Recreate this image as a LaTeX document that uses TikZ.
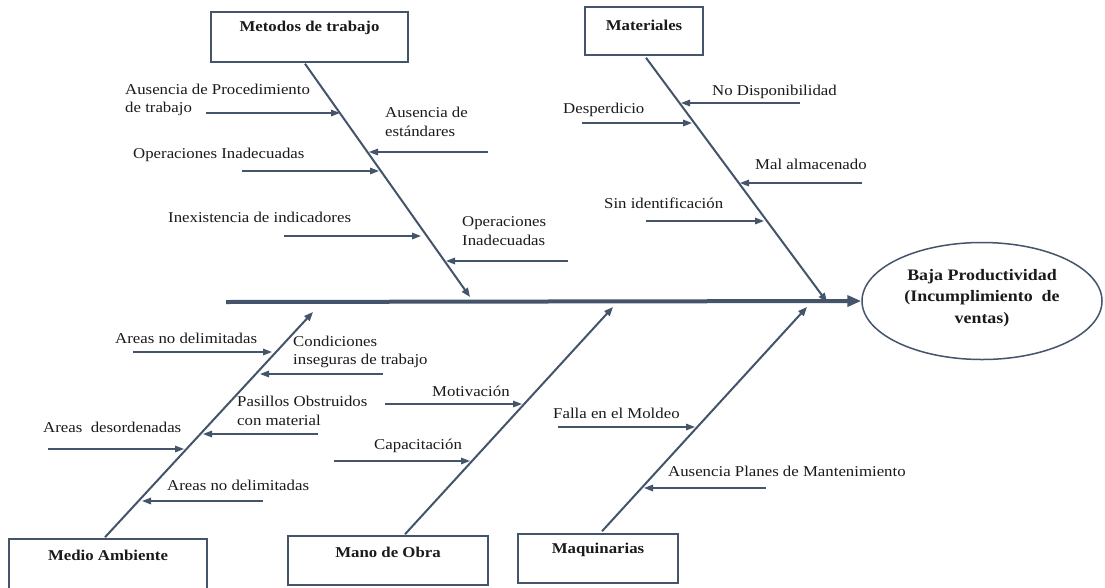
\documentclass[tikz,border=0pt]{standalone}
\usepackage{fontspec}
\setmainfont{Liberation Serif}[FakeStretch=1.12]
\usetikzlibrary{arrows.meta,shapes.geometric,calc}
\definecolor{bonecol}{HTML}{44546A}
\definecolor{txt}{HTML}{1A1A1A}
\tikzset{
  bone/.style={draw=bonecol, line width=2pt, -{Triangle[length=9pt,width=7pt]}},
  sub/.style={draw=bonecol, line width=1.5pt, -{Triangle[length=9pt,width=6.5pt]}},
  spine/.style={draw=bonecol, line width=4pt, -{Triangle[length=14pt,width=11pt]}},
  catbox/.style={draw=bonecol, line width=1.5pt, rectangle, inner sep=0pt},
  cat/.style={font=\bfseries\fontsize{15}{18}\selectfont, text=txt, inner sep=0pt},
  lbl/.style={font=\fontsize{15}{18.5}\selectfont, text=txt, inner sep=0pt, anchor=west, align=left},
  goalshape/.style={draw=bonecol, line width=1.5pt, ellipse, minimum width=240pt, minimum height=117pt, inner sep=0pt},
  goaltext/.style={font=\bfseries\fontsize{16}{21.5}\selectfont, text=txt, align=center, inner sep=0pt},
}
\begin{document}
\begin{tikzpicture}[x=1pt,y=-1pt]
\useasboundingbox (0,0) rectangle (1105,587);
\fill[white] (0,0) rectangle (1105,587);

% Category boxes
\node[catbox, minimum width=197pt, minimum height=50pt] (met) at (309.5,37) {};
\node[cat] (metT) at ($(met.north)+(0,17)$) {Metodos de trabajo};
\node[catbox, minimum width=118pt, minimum height=48pt] (mat) at (644,31) {};
\node[cat] (matT) at ($(mat.north)+(0,19)$) {Materiales};
\node[catbox, minimum width=198pt, minimum height=50pt] (med) at (108,564) {};
\node[cat] (medT) at ($(med.north)+(0,17)$) {Medio Ambiente};
\node[catbox, minimum width=200pt, minimum height=49pt] (man) at (388,560.5) {};
\node[cat] (manT) at ($(man.north)+(0,17)$) {Mano de Obra};
\node[catbox, minimum width=160pt, minimum height=49pt] (maq) at (598,558.5) {};
\node[cat] (maqT) at ($(maq.north)+(0,17)$) {Maquinarias};

% Effect
\node[goalshape] (goal) at (982,301) {};
\node[goaltext] (goalT) at ($(goal.center)+(0,-3)$) {Baja Productividad\\(Incumplimiento~ de\\ventas)};

% Spine
\coordinate (spS) at (226,302);
\draw[spine] (spS) -- (goal.west);

% Bones
\coordinate (metTip) at (470,297);
\coordinate (matTip) at (827,302);
\coordinate (medTip) at (313,312);
\coordinate (manTip) at (613,307);
\coordinate (maqTip) at (807,307);
\draw[bone] ($(met.south)+(-4.5,1)$) -- (metTip);
\draw[bone] ($(mat.south)+(2,2)$) -- (matTip);
\draw[bone] ($(med.north)+(-3,-1)$) -- (medTip);
\draw[bone] ($(man.north)+(17,-1)$) -- (manTip);
\draw[bone] ($(maq.north)+(4,-2)$) -- (maqTip);

% Metodos de trabajo causes
\node[lbl] (m1) at (125,100) {Ausencia de Procedimiento\\de trabajo};
\coordinate (m1s) at (206,113); \coordinate (m1t) at (340,113);
\draw[sub] (m1s) -- (m1t);
\node[lbl] (m2) at (385,122) {Ausencia de\\estándares};
\coordinate (m2s) at (488,152); \coordinate (m2t) at (369,152);
\draw[sub] (m2s) -- (m2t);
\node[lbl] (m3) at (133,155) {Operaciones Inadecuadas};
\coordinate (m3s) at (242,171); \coordinate (m3t) at (379,171);
\draw[sub] (m3s) -- (m3t);
\node[lbl] (m4) at (168,217) {Inexistencia de indicadores};
\coordinate (m4s) at (284,236); \coordinate (m4t) at (421,236);
\draw[sub] (m4s) -- (m4t);
\node[lbl] (m5) at (462,231) {Operaciones\\Inadecuadas};
\coordinate (m5s) at (568,261); \coordinate (m5t) at (446,261);
\draw[sub] (m5s) -- (m5t);

% Materiales causes
\node[lbl] (a1) at (712,92) {No Disponibilidad};
\coordinate (a1s) at (800,103); \coordinate (a1t) at (681,103);
\draw[sub] (a1s) -- (a1t);
\node[lbl] (a2) at (563,110) {Desperdicio};
\coordinate (a2s) at (582,123); \coordinate (a2t) at (692,123);
\draw[sub] (a2s) -- (a2t);
\node[lbl] (a3) at (755,164) {Mal almacenado};
\coordinate (a3s) at (862,183); \coordinate (a3t) at (740,183);
\draw[sub] (a3s) -- (a3t);
\node[lbl] (a4) at (604,203) {Sin identificación};
\coordinate (a4s) at (646,221); \coordinate (a4t) at (764,221);
\draw[sub] (a4s) -- (a4t);

% Medio Ambiente causes
\node[lbl] (e1) at (115,338) {Areas no delimitadas};
\coordinate (e1s) at (133,352); \coordinate (e1t) at (272,352);
\draw[sub] (e1s) -- (e1t);
\node[lbl] (e2) at (293,352) {Condiciones\\inseguras de trabajo};
\coordinate (e2s) at (383,374); \coordinate (e2t) at (260,374);
\draw[sub] (e2s) -- (e2t);
\node[lbl] (e3) at (237,411) {Pasillos Obstruidos\\con material};
\coordinate (e3s) at (318,434); \coordinate (e3t) at (203,434);
\draw[sub] (e3s) -- (e3t);
\node[lbl] (e4) at (43,427) {Areas~ desordenadas};
\coordinate (e4s) at (48,449); \coordinate (e4t) at (184,449);
\draw[sub] (e4s) -- (e4t);
\node[lbl] (e5) at (167,485) {Areas no delimitadas};
\coordinate (e5s) at (263,501); \coordinate (e5t) at (142,501);
\draw[sub] (e5s) -- (e5t);

% Mano de Obra causes
\node[lbl] (o1) at (432,391) {Motivación};
\coordinate (o1s) at (385,404); \coordinate (o1t) at (522,404);
\draw[sub] (o1s) -- (o1t);
\node[lbl] (o2) at (374,446) {Capacitación};
\coordinate (o2s) at (334,461); \coordinate (o2t) at (470,461);
\draw[sub] (o2s) -- (o2t);

% Maquinarias causes
\node[lbl] (q1) at (553,413) {Falla en el Moldeo};
\coordinate (q1s) at (558,427); \coordinate (q1t) at (695,427);
\draw[sub] (q1s) -- (q1t);
\node[lbl] (q2) at (668,471) {Ausencia Planes de Mantenimiento};
\coordinate (q2s) at (766,488); \coordinate (q2t) at (644,488);
\draw[sub] (q2s) -- (q2t);
\end{tikzpicture}
\end{document}
